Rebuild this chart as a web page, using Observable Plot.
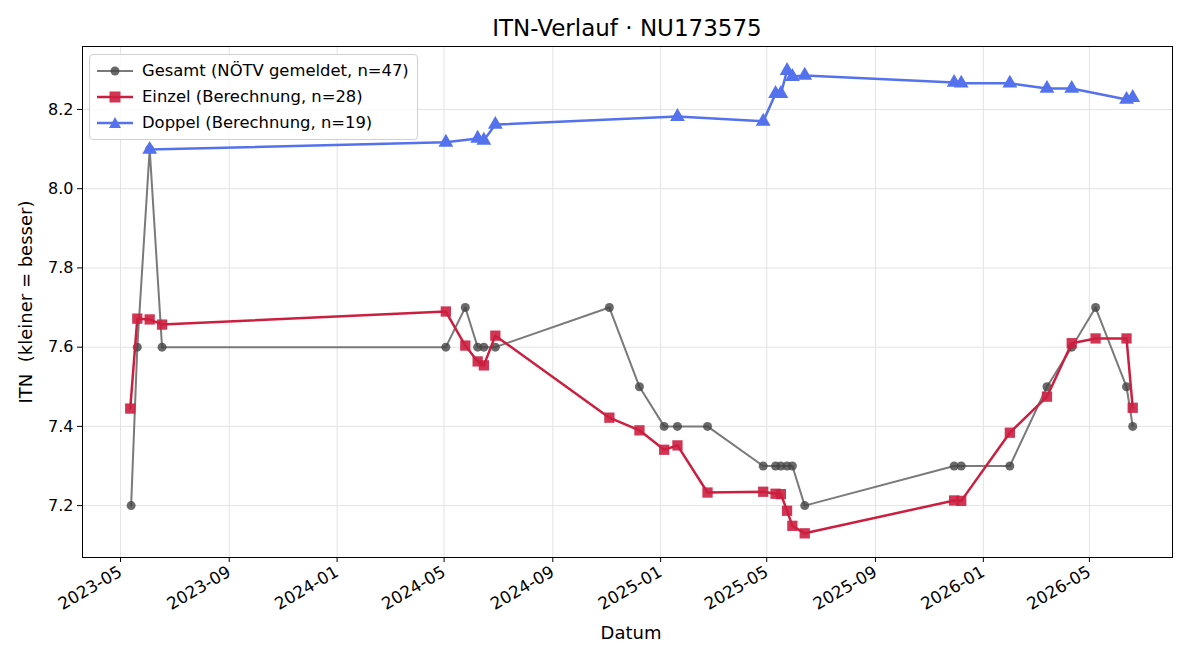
<!DOCTYPE html>
<html>
<head>
<meta charset="utf-8">
<script src="https://cdn.jsdelivr.net/npm/d3@7"></script>
<script src="https://cdn.jsdelivr.net/npm/@observablehq/plot@0.6"></script>
<style>
  html, body { margin: 0; padding: 0; background: #fff; }
  #wrap { position: relative; width: 1200px; height: 660px; font-family: "DejaVu Sans", sans-serif; color: #000; }
  #title { position: absolute; left: 82px; width: 1090px; top: 14px; line-height: 28px; text-align: center; font-size: 23px; }
  .axlabel { position: absolute; font-size: 18px; line-height: 20px; white-space: pre; transform: translate(-50%, -50%); }
  #ylabel { left: 26px; top: 302px; transform: translate(-50%, -50%) rotate(-90deg); }
  #xlabel { left: 631px; top: 633px; }
  #legend { position: absolute; left: 89px; top: 54px; width: 329px; height: 86px; border: 1px solid #d0d0d0; border-radius: 4px; background: rgba(255,255,255,0.85); box-sizing: border-box; }
  .item { position: absolute; left: 0; height: 24px; font-size: 16.4px; line-height: 24px; white-space: nowrap; }
  .item svg { position: absolute; left: 5px; top: 0; }
  .item span { position: absolute; left: 52px; top: 0; }
</style>
</head>
<body>
<div id="wrap">
  <div id="chart"></div>
  <div id="title">ITN-Verlauf · NU173575</div>
  <div class="axlabel" id="ylabel">ITN  (kleiner = besser)</div>
  <div class="axlabel" id="xlabel">Datum</div>
  <div id="legend"></div>
</div>
<script>
// ---- Data ----
const gesamtDates = ["2023-05-13","2023-05-20","2023-06-03","2023-06-17","2024-05-03","2024-05-25","2024-06-08","2024-06-15","2024-06-28","2024-11-04","2024-12-08","2025-01-05","2025-01-20","2025-02-23","2025-04-27","2025-05-11","2025-05-17","2025-05-24","2025-05-30","2025-06-13","2025-11-29","2025-12-07","2026-01-31","2026-03-14","2026-04-11","2026-05-08","2026-06-12","2026-06-19"];
const gesamtValues = [7.2,7.6,8.1,7.6,7.6,7.7,7.6,7.6,7.6,7.7,7.5,7.4,7.4,7.4,7.3,7.3,7.3,7.3,7.3,7.2,7.3,7.3,7.3,7.5,7.6,7.7,7.5,7.4];

const einzelDates = ["2023-05-12","2023-05-20","2023-06-03","2023-06-17","2024-05-03","2024-05-25","2024-06-08","2024-06-15","2024-06-28","2024-11-04","2024-12-08","2025-01-05","2025-01-20","2025-02-23","2025-04-27","2025-05-11","2025-05-17","2025-05-24","2025-05-30","2025-06-13","2025-11-29","2025-12-07","2026-01-31","2026-03-14","2026-04-11","2026-05-08","2026-06-12","2026-06-19"];
const einzelValues = [7.445,7.672,7.670,7.657,7.690,7.604,7.564,7.554,7.629,7.422,7.390,7.341,7.352,7.233,7.235,7.230,7.229,7.187,7.149,7.130,7.213,7.212,7.384,7.475,7.610,7.622,7.622,7.447];

const doppelDates = ["2023-06-03","2024-05-03","2024-06-08","2024-06-15","2024-06-28","2025-01-20","2025-04-27","2025-05-11","2025-05-17","2025-05-24","2025-05-30","2025-06-13","2025-11-29","2025-12-07","2026-01-31","2026-03-14","2026-04-11","2026-06-12","2026-06-19"];
const doppelValues = [8.099,8.117,8.127,8.122,8.162,8.182,8.170,8.240,8.240,8.298,8.283,8.286,8.268,8.266,8.266,8.253,8.253,8.225,8.230];

const xTickLabels = ["2023-05","2023-09","2024-01","2024-05","2024-09","2025-01","2025-05","2025-09","2026-01","2026-05"];
const yTicks = [7.2,7.4,7.6,7.8,8.0,8.2];

const seriesNames = ["Gesamt (NÖTV gemeldet, n=47)","Einzel (Berechnung, n=28)","Doppel (Berechnung, n=19)"];

// ---- Build ----
const parse = d3.utcParse("%Y-%m-%d");
const mk = (dates, vals) => dates.map((d, i) => ({date: parse(d), v: vals[i]}));
const gesamt = mk(gesamtDates, gesamtValues);
const einzel = mk(einzelDates, einzelValues);
const doppel = mk(doppelDates, doppelValues);
const xTicks = xTickLabels.map(s => d3.utcParse("%Y-%m")(s));

const cGray = "#7a7a7a", cGrayDot = "#444", cRed = "#cc1f40", cBlue = "#5572ee";

const chart = Plot.plot({
  width: 1200,
  height: 660,
  marginLeft: 82,
  marginRight: 28,
  marginTop: 46,
  marginBottom: 103,
  style: {fontFamily: "DejaVu Sans, sans-serif", fontSize: "16px", color: "#000", background: "transparent"},
  x: {type: "utc", domain: [parse("2023-03-19"), parse("2026-08-03")]},
  y: {domain: [7.069, 8.359]},
  marks: [
    Plot.gridX(xTicks, {stroke: "#e3e3e3", strokeOpacity: 1}),
    Plot.gridY(yTicks, {stroke: "#e3e3e3", strokeOpacity: 1}),
    Plot.axisX(xTicks, {tickFormat: d3.utcFormat("%Y-%m"), tickRotate: -30, tickSize: 5, tickPadding: 8, fontSize: 16.8, label: null}),
    Plot.axisY(yTicks, {tickFormat: d => d.toFixed(1), tickSize: 5, tickPadding: 4, fontSize: 16, label: null}),
    Plot.line(gesamt, {x: "date", y: "v", stroke: cGray, strokeWidth: 2}),
    Plot.dot(gesamt, {x: "date", y: "v", r: 4.5, fill: cGrayDot, fillOpacity: 0.8, stroke: "none"}),
    Plot.line(einzel, {x: "date", y: "v", stroke: cRed, strokeWidth: 2.5}),
    Plot.dot(einzel, {x: "date", y: "v", symbol: "square", r: 5.8, fill: cRed, fillOpacity: 0.9, stroke: "none"}),
    Plot.line(doppel, {x: "date", y: "v", stroke: cBlue, strokeWidth: 2.5}),
    Plot.dot(doppel, {x: "date", y: "v", symbol: "triangle", r: 5.5, fill: cBlue, stroke: "none"}),
    Plot.frame({stroke: "#000", strokeWidth: 1})
  ]
});
document.getElementById("chart").appendChild(chart);

// ---- Legend ----
const legend = document.getElementById("legend");
const legendDefs = [
  {name: seriesNames[0], line: cGray, marker: `<circle cx="20" cy="12" r="4.5" fill="${cGrayDot}" fill-opacity="0.8"/>`},
  {name: seriesNames[1], line: cRed, marker: `<rect x="14.5" y="6.5" width="11" height="11" fill="${cRed}" fill-opacity="0.9"/>`},
  {name: seriesNames[2], line: cBlue, marker: `<path d="M20,6 L26,17 L14,17 Z" fill="${cBlue}"/>`}
];
legendDefs.forEach((d, i) => {
  const el = document.createElement("div");
  el.className = "item";
  el.style.top = (4 + i * 26) + "px";
  el.innerHTML = `<svg width="42" height="24"><line x1="2" x2="38" y1="12" y2="12" stroke="${d.line}" stroke-width="${i === 0 ? 2 : 2.5}"/>${d.marker}</svg><span>${d.name}</span>`;
  legend.appendChild(el);
});
</script>
</body>
</html>
